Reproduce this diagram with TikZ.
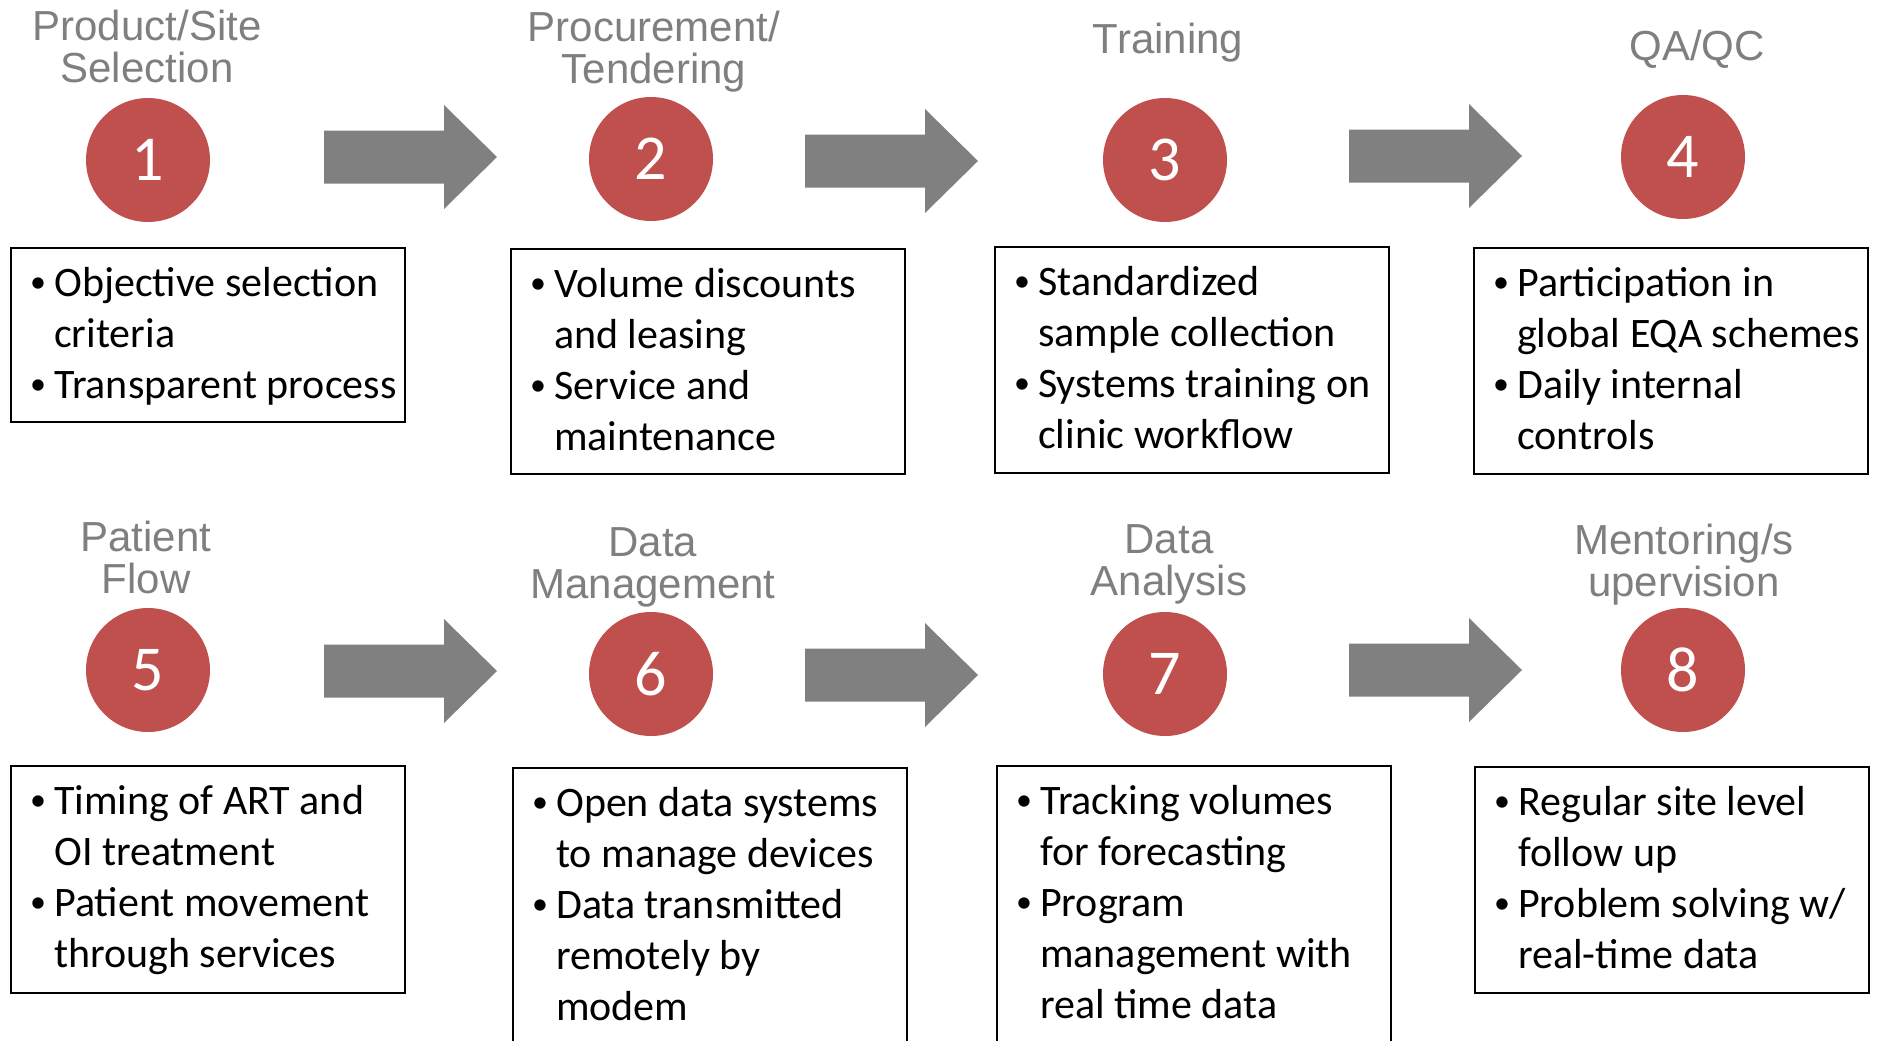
\documentclass[tikz,border=0pt]{standalone}
\usepackage{fontspec}
\setmainfont{Carlito}
\newfontfamily\headfont{Liberation Sans}
\usetikzlibrary{positioning}

\definecolor{numred}{HTML}{C0504D}
\definecolor{arrgray}{HTML}{808080}
\definecolor{ttlgray}{HTML}{7F7F7F}

\newcommand{\blt}{\makebox[24pt][l]{\raisebox{4.5pt}{\fontsize{32}{32}\selectfont •}}}
\newcommand{\indnt}{\hspace*{24pt}}

\begin{document}
\begin{tikzpicture}
[
    x = 1pt, y = -1pt,
    numcirc/.style = {circle, fill=numred,
                      minimum size=124pt,
                      inner sep=0pt, text=white,
                      font=\fontsize{64}{64}\selectfont},
    ttl/.style     = {anchor=base, align=center,
                      inner sep=0pt, text=ttlgray,
                      font=\headfont\fontsize{42}{42}\selectfont},
    infobox/.style = {draw, line width=1.6pt,
                      anchor=north west,
                      minimum width=394pt},
    infotxt/.style = {anchor=north west, inner sep=0pt,
                      font=\fontsize{42}{51}\selectfont},
    bigarr/.pic    = {\fill[arrgray] (-86,-26.5) -- (34,-26.5) -- (34,-52)
                      -- (87,0) -- (34,52) -- (34,26.5) -- (-86,26.5) -- cycle;}
]
\useasboundingbox (0,0) rectangle (1883,1041);

% top row
\node (t1) [ttl] at (147,82) {Product/Site\\Selection};
\node (c1) [numcirc] at (148,160) {1};
\node (b1) [infobox, minimum height=174pt] at (10,247) {};
\node (x1) [infotxt, below right=14pt and 20pt of b1.north west] {
\begin{tabular}{@{}l@{}}
\blt Objective selection\\
\indnt criteria\\
\blt Transparent process
\end{tabular}
};

\pic (a1) at (410,157) {bigarr};

\node (t2) [ttl] at (654,84) {Procurement/\\Tendering};
\node (c2) [numcirc] at (651,159) {2};
\node (b2) [infobox, minimum height=225pt] at (510,248) {};
\node (x2) [infotxt, below right=14pt and 20pt of b2.north west] {
\begin{tabular}{@{}l@{}}
\blt Volume discounts\\
\indnt and leasing\\
\blt Service and\\
\indnt maintenance
\end{tabular}
};

\pic (a2) at (891,161) {bigarr};

\node (t3) [ttl] at (1168,54) {Training};
\node (c3) [numcirc] at (1165,160) {3};
\node (b3) [infobox, minimum height=226pt] at (994,246) {};
\node (x3) [infotxt, below right=14pt and 20pt of b3.north west] {
\begin{tabular}{@{}l@{}}
\blt Standardized\\
\indnt sample collection\\
\blt Systems training on\\
\indnt clinic workflow
\end{tabular}
};

\pic (a3) at (1435,156) {bigarr};

\node (t4) [ttl] at (1697,61) {QA/QC};
\node (c4) [numcirc] at (1683,157) {4};
\node (b4) [infobox, minimum height=226pt] at (1473,247) {};
\node (x4) [infotxt, below right=14pt and 20pt of b4.north west] {
\begin{tabular}{@{}l@{}}
\blt Participation in\\
\indnt global EQA schemes\\
\blt Daily internal\\
\indnt controls
\end{tabular}
};

% bottom row
\node (t5) [ttl] at (146,593) {Patient\\Flow};
\node (c5) [numcirc] at (148,670) {5};
\node (b5) [infobox, minimum height=227pt] at (10,765) {};
\node (x5) [infotxt, below right=14pt and 20pt of b5.north west] {
\begin{tabular}{@{}l@{}}
\blt Timing of ART and\\
\indnt OI treatment\\
\blt Patient movement\\
\indnt through services
\end{tabular}
};

\pic (a4) at (410,671) {bigarr};

\node (t6) [ttl] at (653,598) {Data\\Management};
\node (c6) [numcirc] at (651,674) {6};
\node (b6) [infobox, minimum height=300pt] at (512,767) {};
\node (x6) [infotxt, below right=14pt and 20pt of b6.north west] {
\begin{tabular}{@{}l@{}}
\blt Open data systems\\
\indnt to manage devices\\
\blt Data transmitted\\
\indnt remotely by\\
\indnt modem
\end{tabular}
};

\pic (a5) at (891,675) {bigarr};

\node (t7) [ttl] at (1169,595) {Data\\Analysis};
\node (c7) [numcirc] at (1165,674) {7};
\node (b7) [infobox, minimum height=300pt] at (996,765) {};
\node (x7) [infotxt, below right=14pt and 20pt of b7.north west] {
\begin{tabular}{@{}l@{}}
\blt Tracking volumes\\
\indnt for forecasting\\
\blt Program\\
\indnt management with\\
\indnt real time data
\end{tabular}
};

\pic (a6) at (1435,670) {bigarr};

\node (t8) [ttl] at (1684,596) {Mentoring/s\\upervision};
\node (c8) [numcirc] at (1683,670) {8};
\node (b8) [infobox, minimum height=226pt] at (1474,766) {};
\node (x8) [infotxt, below right=14pt and 20pt of b8.north west] {
\begin{tabular}{@{}l@{}}
\blt Regular site level\\
\indnt follow up\\
\blt Problem solving w/\\
\indnt real-time data
\end{tabular}
};

\end{tikzpicture}
\end{document}
